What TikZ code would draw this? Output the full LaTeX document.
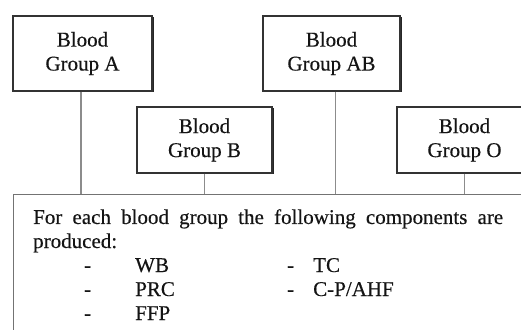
\documentclass[tikz,border=0pt]{standalone}
\usepackage{fontspec}
\setmainfont{Liberation Serif}[FakeBold=0.35]
\usetikzlibrary{shadows}
\begin{document}
\begin{tikzpicture}[x=1pt,y=1pt,
  grp/.style={draw=black!80, line width=1.2pt, fill=white, align=center,
    font=\fontsize{21}{24}\selectfont, text=black!92, inner sep=0pt,
    drop shadow={shadow xshift=1.5pt, shadow yshift=-1.5pt, fill=black!85, opacity=1}},
  conn/.style={draw=black!45, line width=1.1pt},
  txt/.style={anchor=base west, inner sep=0pt, font=\fontsize{21}{24}\selectfont, text=black!92}]
\clip (0,0) rectangle (521,329);
\fill[white] (0,0) rectangle (521,329);
% group boxes
\node[grp, minimum width=139pt, minimum height=75pt] (A) at (82.5,275.5) {Blood\\Group A};
\node[grp, minimum width=137pt, minimum height=75pt] (AB) at (331.5,275.5) {Blood\\Group AB};
\node[grp, minimum width=135pt, minimum height=66pt] (B) at (204.5,189) {Blood\\Group B};
\node[grp, minimum width=135pt, minimum height=66pt] (O) at (464.5,189) {Blood\\Group O};
% big box
\node[draw=black!55, line width=1.3pt, anchor=north west, minimum width=560pt, minimum height=180pt, inner sep=0pt] (big) at (13,135) {};
% connectors
\draw[conn] ([xshift=-1.5pt]A.south) -- ([xshift=-1.5pt]A.south |- big.north);
\draw[conn] (B.south) -- (B.south |- big.north);
\draw[conn] ([xshift=4pt]AB.south) -- ([xshift=4pt]AB.south |- big.north);
\draw[conn] (O.south) -- (O.south |- big.north);
% text
\node[txt] (l1) at (33,105) {\makebox[470pt][s]{For each blood group the following components are}};
\node[txt] (l2) at (33,81) {produced:};
\node[txt] (d1) at (84,57) {-};
\node[txt] (d2) at (84,33) {-};
\node[txt] (d3) at (84,9) {-};
\node[txt] (wb) at (135,57) {WB};
\node[txt] (prc) at (135,33) {PRC};
\node[txt] (ffp) at (135,9) {FFP};
\node[txt] (d4) at (287,57) {-};
\node[txt] (d5) at (287,33) {-};
\node[txt] (tc) at (313,57) {TC};
\node[txt] (cp) at (313,33) {C-P/AHF};
\end{tikzpicture}
\end{document}
